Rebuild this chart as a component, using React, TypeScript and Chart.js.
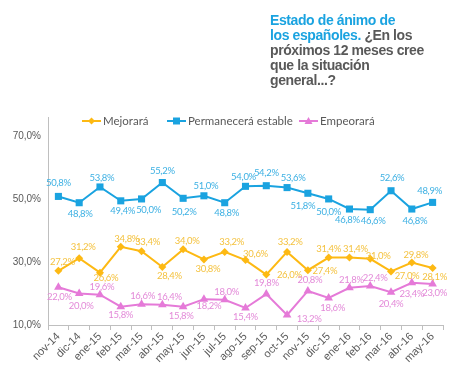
import React, { useEffect, useRef } from "react";
import { Chart, registerables } from "chart.js";
Chart.register(...registerables);

const categories = ["nov-14", "dic-14", "ene-15", "feb-15", "mar-15", "abr-15", "may-15", "jun-15", "jul-15", "ago-15", "sep-15", "oct-15", "nov-15", "dic-15", "ene-16", "feb-16", "mar-16", "abr-16", "may-16"];
const mejorara = [27.2, 31.2, 26.6, 34.8, 33.4, 28.4, 34.0, 30.8, 33.2, 30.6, 26.0, 33.2, 27.4, 31.4, 31.4, 31.0, 27.0, 29.8, 28.1];
const permanecera = [50.8, 48.8, 53.8, 49.4, 50.0, 55.2, 50.2, 51.0, 48.8, 54.0, 54.2, 53.6, 51.8, 50.0, 46.8, 46.6, 52.6, 46.8, 48.9];
const empeorara = [22.0, 20.0, 19.6, 15.8, 16.6, 16.4, 15.8, 18.2, 18.0, 15.4, 19.8, 13.2, 20.8, 18.6, 21.8, 22.4, 20.4, 23.4, 23.0];
const seriesNames = ["Mejorará", "Permanecerá estable", "Empeorará"];
const yTicks = [10, 30, 50, 70];

// data-label offsets from each point (dx, dy), placement only
const offMejorara = [[4, -9], [4, -11], [6, 5], [6, -8], [6, -9], [7, 9], [4, -8], [4, 9], [7, -10], [10, -6], [23, 0], [3, -10], [17, 1], [0, -9], [6, -9], [8, -3], [16, 5], [4, -8], [2, 9]];
const offPermanecera = [[0, -13], [1, 11], [2, -9], [2, 10], [7, 11], [0, -12], [1, 14], [2, -10], [2, 10], [-2, -9], [0, -13], [6, -10], [-5, 13], [0, 13], [-2, 11], [3, 11], [1, -13], [3, 12], [-3, -11]];
const offEmpeorara = [[1, 10], [2, 12], [2, -8], [0, 8], [1, -8], [7, -8], [-2, 9], [5, 7], [2, -8], [0, 9], [0, -11], [22, 4], [2, -11], [4, 10], [2, -8], [5, -8], [0, 12], [0, 11], [2, 9]];

const YELLOW = "#FDB913";
const YELLOW_TXT = "#F4C23F";
const BLUE = "#1AA3E0";
const BLUE_TXT = "#3CB0E3";
const PINK = "#E57AD8";
const PINK_TXT = "#E389D8";
const GRAY = "#595959";

const fmt = (v: number) => v.toFixed(1).replace(".", ",") + "%";

const labelsPlugin = {
  id: "pointLabels",
  afterDatasetsDraw(chart: any) {
    const ctx = chart.ctx;
    const offsets = [offMejorara, offPermanecera, offEmpeorara];
    const colors = [YELLOW_TXT, BLUE_TXT, PINK_TXT];
    ctx.save();
    ctx.font = "9.5px Lato";
    try { (ctx as any).letterSpacing = "-0.3px"; } catch (e) {}
    ctx.textBaseline = "middle";
    ctx.textAlign = "center";
    chart.data.datasets.forEach((ds: any, di: number) => {
      const meta = chart.getDatasetMeta(di);
      meta.data.forEach((pt: any, i: number) => {
        const [dx, dy] = offsets[di][i];
        ctx.fillStyle = colors[di];
        ctx.fillText(fmt(ds.data[i]), pt.x + dx, pt.y + dy);
      });
    });
    ctx.restore();
  },
};

const legendPlugin = {
  id: "customLegend",
  afterDraw(chart: any) {
    const ctx = chart.ctx;
    const xs = [82, 167, 299];
    const y = 121;
    ctx.save();
    ctx.font = "11.5px Lato";
    ctx.textBaseline = "middle";
    ctx.textAlign = "left";
    chart.data.datasets.forEach((ds: any, di: number) => {
      const x = xs[di];
      ctx.strokeStyle = ds.borderColor;
      ctx.lineWidth = 2;
      ctx.beginPath();
      ctx.moveTo(x, y);
      ctx.lineTo(x + 19, y);
      ctx.stroke();
      ctx.fillStyle = ds.borderColor;
      const cx = x + 9.5;
      ctx.beginPath();
      if (ds.pointStyle === "rectRot") {
        ctx.moveTo(cx, y - 3.5);
        ctx.lineTo(cx + 3.5, y);
        ctx.lineTo(cx, y + 3.5);
        ctx.lineTo(cx - 3.5, y);
      } else if (ds.pointStyle === "rect") {
        ctx.rect(cx - 3.5, y - 3.5, 7, 7);
      } else {
        ctx.moveTo(cx, y - 4);
        ctx.lineTo(cx + 4, y + 3);
        ctx.lineTo(cx - 4, y + 3);
      }
      ctx.closePath();
      ctx.fill();
      ctx.fillStyle = GRAY;
      ctx.fillText(ds.label, x + 21, y);
    });
    ctx.restore();
  },
};

export default function App() {
  const ref = useRef<HTMLCanvasElement>(null);
  useEffect(() => {
    if (!ref.current) return;
    const chart = new Chart(ref.current, {
      type: "line",
      data: {
        labels: categories,
        datasets: [
          { label: seriesNames[0], data: mejorara, borderColor: YELLOW, backgroundColor: YELLOW, pointStyle: "rectRot", pointRadius: 4, borderWidth: 2, pointBorderWidth: 0 },
          { label: seriesNames[1], data: permanecera, borderColor: BLUE, backgroundColor: BLUE, pointStyle: "rect", pointRadius: 5, borderWidth: 2, pointBorderWidth: 0 },
          { label: seriesNames[2], data: empeorara, borderColor: PINK, backgroundColor: PINK, pointStyle: "triangle", pointRadius: 5, borderWidth: 2, pointBorderWidth: 0 },
        ],
      },
      options: {
        animation: false,
        responsive: false,
        maintainAspectRatio: false,
        layout: { padding: { left: 0, right: 25, top: 117, bottom: 0 } },
        plugins: { legend: { display: false }, tooltip: { enabled: false } },
        scales: {
          x: {
            offset: true,
            grid: { display: true, drawOnChartArea: false, drawTicks: true, tickLength: 5, offset: true, color: "#BFBFBF" },
            border: { color: "#BFBFBF" },
            ticks: { color: GRAY, font: { family: "Liberation Sans", size: 11 }, minRotation: 45, maxRotation: 45, padding: 0, autoSkip: false },
            afterFit: (s: any) => { s.height = 57; },
          },
          y: {
            min: 10,
            max: 76,
            afterBuildTicks: (s: any) => { s.ticks = yTicks.map((v) => ({ value: v })); },
            grid: { display: true, drawOnChartArea: false, drawTicks: false, color: "#BFBFBF" },
            border: { color: "#BFBFBF" },
            ticks: { color: GRAY, font: { family: "Liberation Sans", size: 10 }, padding: 7, callback: (v: any) => Number(v).toFixed(1).replace(".", ",") + "%" },
            afterFit: (s: any) => { s.width = 48; },
          },
        },
      },
      plugins: [labelsPlugin, legendPlugin],
    });
    return () => chart.destroy();
  }, []);
  return (
    <div style={{ position: "fixed", left: 0, top: 0, width: 468, height: 382, background: "#fff", overflow: "hidden" }}>
      <canvas ref={ref} width={468} height={382} style={{ position: "absolute", left: 0, top: 0 }} />
      <div style={{ position: "absolute", left: 270, top: 13, fontFamily: "Liberation Sans", fontWeight: "bold", fontSize: 14, lineHeight: "15px", color: GRAY, letterSpacing: -0.4 }}>
        <div><span style={{ color: BLUE }}>Estado de ánimo de</span></div>
        <div><span style={{ color: BLUE }}>los españoles.</span> ¿En los</div>
        <div>próximos 12 meses cree</div>
        <div>que la situación</div>
        <div>general...?</div>
      </div>
    </div>
  );
}
